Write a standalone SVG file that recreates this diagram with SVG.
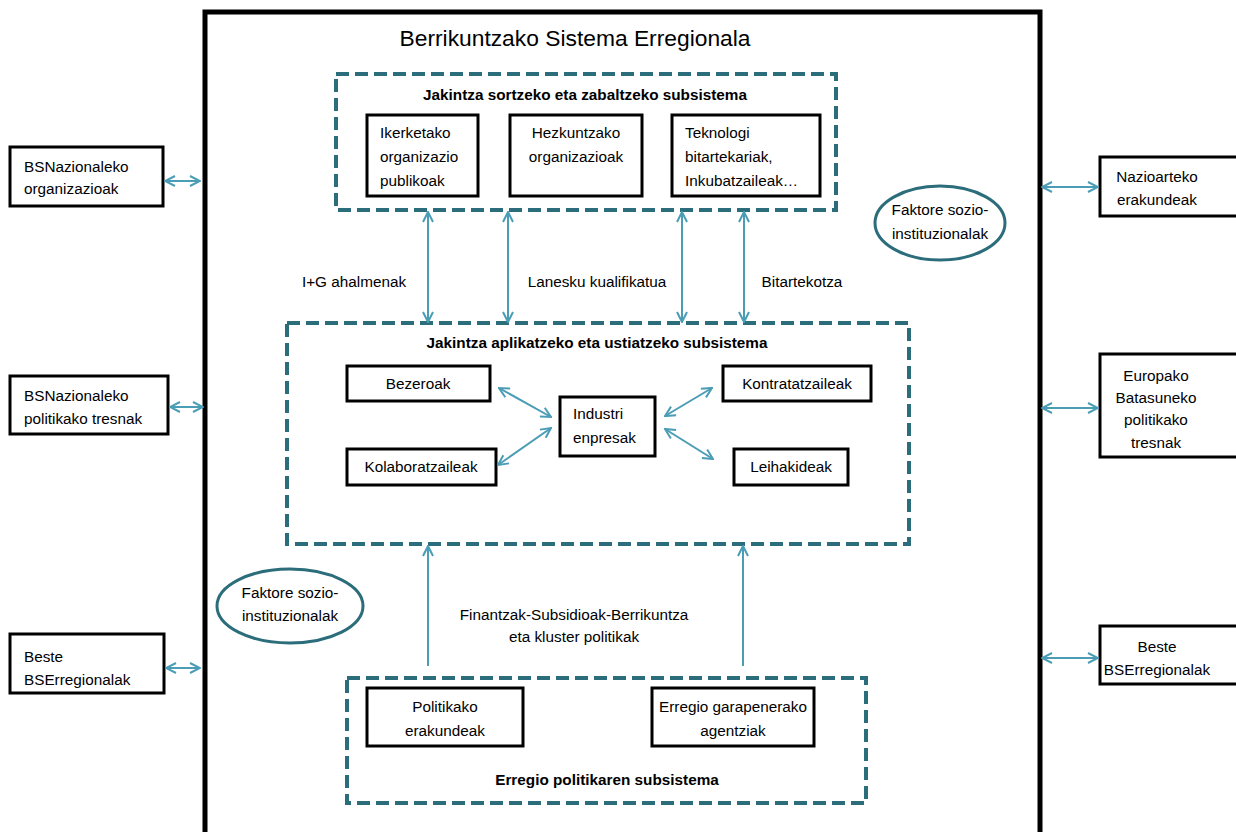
<svg xmlns="http://www.w3.org/2000/svg" width="1236" height="832" viewBox="0 0 1236 832">
<defs>
<marker id="ah" viewBox="0 0 12 12" refX="11" refY="6" markerWidth="12" markerHeight="12" markerUnits="userSpaceOnUse" orient="auto-start-reverse">
<path d="M1,1 L11,6 L1,11" fill="none" stroke="#4a9db5" stroke-width="2"/>
</marker>
</defs>
<style>
text{font-family:"Liberation Sans",Arial,sans-serif;font-size:15.3px;fill:#000}
.t{font-size:22.8px}
.b{font-weight:bold;font-size:15.3px}
.box{fill:#fff;stroke:#000;stroke-width:3}
.dash{fill:none;stroke:#2b6d7a;stroke-width:4;stroke-dasharray:13 6}
.ell{fill:#fff;stroke:#2b6d7a;stroke-width:3}
.c{fill:none;stroke:#4a9db5;stroke-width:2}
.m{text-anchor:middle}
</style>
<rect width="1236" height="832" fill="#fff"/>
<g id="outer">
<rect x="205" y="12" width="835" height="840" fill="none" stroke="#000" stroke-width="5"/>
<text class="t m" x="575" y="46">Berrikuntzako Sistema Erregionala</text>
</g>
<g id="sub-top">
<rect class="dash" x="336" y="74" width="500" height="136"/>
<text class="b m" x="585" y="100">Jakintza sortzeko eta zabaltzeko subsistema</text>
</g>
<g id="ikerketako">
<rect class="box" x="367" y="115" width="111" height="81"/>
<text x="380" y="138">Ikerketako</text><text x="380" y="162">organizazio</text><text x="380" y="186">publikoak</text>
</g>
<g id="hezkuntzako">
<rect class="box" x="510" y="115" width="132" height="81"/>
<text class="m" x="576" y="138">Hezkuntzako</text><text class="m" x="576" y="162">organizazioak</text>
</g>
<g id="teknologi">
<rect class="box" x="672" y="115" width="148" height="81"/>
<text x="685" y="138">Teknologi</text><text x="685" y="162">bitartekariak,</text><text x="685" y="186">Inkubatzaileak…</text>
</g>
<g id="sub-mid">
<rect class="dash" x="287" y="323" width="622" height="221"/>
<text class="b m" x="597" y="348">Jakintza aplikatzeko eta ustiatzeko subsistema</text>
</g>
<g id="bezeroak">
<rect class="box" x="347" y="366" width="143" height="35"/>
<text class="m" x="418" y="389">Bezeroak</text>
</g>
<g id="kolaboratzaileak">
<rect class="box" x="347" y="449" width="149" height="36"/>
<text class="m" x="421" y="472">Kolaboratzaileak</text>
</g>
<g id="industri">
<rect class="box" x="560" y="397" width="95" height="59"/>
<text x="573" y="419">Industri</text><text x="573" y="443">enpresak</text>
</g>
<g id="kontratatzaileak">
<rect class="box" x="723" y="366" width="148" height="35"/>
<text class="m" x="797" y="389">Kontratatzaileak</text>
</g>
<g id="leihakideak">
<rect class="box" x="734" y="449" width="114" height="36"/>
<text class="m" x="791" y="472">Leihakideak</text>
</g>
<g id="sub-bottom">
<rect class="dash" x="347" y="678" width="519" height="125"/>
<text class="b m" x="607" y="785">Erregio politikaren subsistema</text>
</g>
<g id="politikako">
<rect class="box" x="367" y="688" width="156" height="58"/>
<text class="m" x="445" y="712">Politikako</text><text class="m" x="445" y="736">erakundeak</text>
</g>
<g id="erregio">
<rect class="box" x="652" y="688" width="162" height="58"/>
<text class="m" x="733" y="712">Erregio garapenerako</text><text class="m" x="733" y="736">agentziak</text>
</g>
<g id="ell-right">
<ellipse class="ell" cx="940" cy="223" rx="65" ry="37"/>
<text class="m" x="940" y="215">Faktore sozio-</text><text class="m" x="940" y="239">instituzionalak</text>
</g>
<g id="ell-left">
<ellipse class="ell" cx="290" cy="606" rx="73" ry="37"/>
<text class="m" x="290" y="598">Faktore sozio-</text><text class="m" x="290" y="621">instituzionalak</text>
</g>
<g id="left-1">
<rect class="box" x="10" y="147" width="153" height="59"/>
<text x="24" y="172">BSNazionaleko</text><text x="24" y="194">organizazioak</text>
</g>
<g id="left-2">
<rect class="box" x="10" y="376" width="158" height="58"/>
<text x="24" y="401">BSNazionaleko</text><text x="24" y="424">politikako tresnak</text>
</g>
<g id="left-3">
<rect class="box" x="10" y="634" width="154" height="59"/>
<text x="24" y="662">Beste</text><text x="24" y="685">BSErregionalak</text>
</g>
<g id="right-1">
<rect class="box" x="1100" y="157" width="140" height="59"/>
<text class="m" x="1157" y="182">Nazioarteko</text><text class="m" x="1157" y="205">erakundeak</text>
</g>
<g id="right-2">
<rect class="box" x="1100" y="354" width="140" height="103"/>
<text class="m" x="1156" y="381">Europako</text><text class="m" x="1156" y="403">Batasuneko</text><text class="m" x="1156" y="425">politikako</text><text class="m" x="1156" y="448">tresnak</text>
</g>
<g id="right-3">
<rect class="box" x="1100" y="626" width="140" height="58"/>
<text class="m" x="1157" y="652">Beste</text><text class="m" x="1157" y="675">BSErregionalak</text>
</g>
<g id="connectors">
<line class="c" x1="428" y1="212" x2="428" y2="322" marker-start="url(#ah)" marker-end="url(#ah)"/>
<line class="c" x1="508" y1="212" x2="508" y2="322" marker-start="url(#ah)" marker-end="url(#ah)"/>
<line class="c" x1="682" y1="212" x2="682" y2="322" marker-start="url(#ah)" marker-end="url(#ah)"/>
<line class="c" x1="744" y1="212" x2="744" y2="322" marker-start="url(#ah)" marker-end="url(#ah)"/>
<line class="c" x1="428" y1="666" x2="428" y2="546" marker-end="url(#ah)"/>
<line class="c" x1="743" y1="666" x2="743" y2="546" marker-end="url(#ah)"/>
<line class="c" x1="499" y1="388" x2="551" y2="417" marker-start="url(#ah)" marker-end="url(#ah)"/>
<line class="c" x1="498" y1="465" x2="551" y2="428" marker-start="url(#ah)" marker-end="url(#ah)"/>
<line class="c" x1="665" y1="416" x2="712" y2="388" marker-start="url(#ah)" marker-end="url(#ah)"/>
<line class="c" x1="665" y1="429" x2="713" y2="459" marker-start="url(#ah)" marker-end="url(#ah)"/>
<line class="c" x1="165" y1="181" x2="200" y2="181" marker-start="url(#ah)" marker-end="url(#ah)"/>
<line class="c" x1="170" y1="407" x2="203" y2="407" marker-start="url(#ah)" marker-end="url(#ah)"/>
<line class="c" x1="166" y1="668" x2="200" y2="668" marker-start="url(#ah)" marker-end="url(#ah)"/>
<line class="c" x1="1042" y1="187" x2="1098" y2="187" marker-start="url(#ah)" marker-end="url(#ah)"/>
<line class="c" x1="1042" y1="408" x2="1098" y2="408" marker-start="url(#ah)" marker-end="url(#ah)"/>
<line class="c" x1="1042" y1="658" x2="1098" y2="658" marker-start="url(#ah)" marker-end="url(#ah)"/>
</g>
<g id="labels">
<text class="m" x="354" y="287">I+G ahalmenak</text>
<text class="m" x="597" y="287">Lanesku kualifikatua</text>
<text class="m" x="802" y="287">Bitartekotza</text>
<text class="m" x="574" y="620">Finantzak-Subsidioak-Berrikuntza</text>
<text class="m" x="574" y="642">eta kluster politikak</text>
</g>
</svg>
